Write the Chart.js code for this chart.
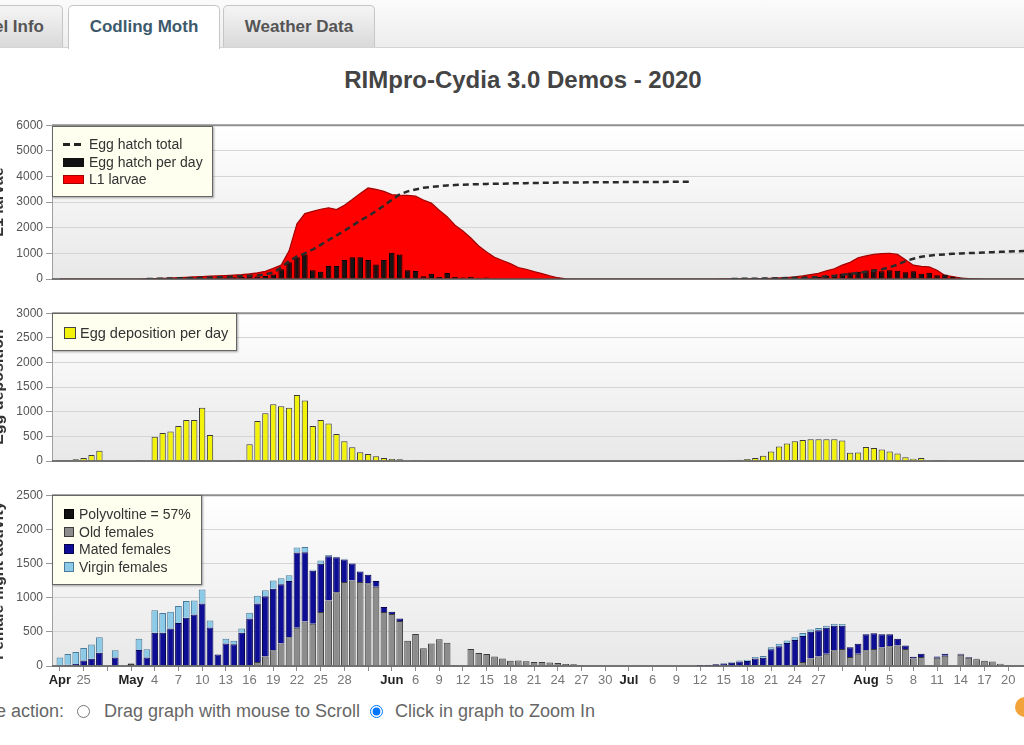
<!DOCTYPE html>
<html lang="en">
<head>
<meta charset="utf-8">
<title>RIMpro-Cydia 3.0 Demos - 2020</title>
<script src="https://cdn.jsdelivr.net/npm/chart.js@4.4.1/dist/chart.umd.min.js"></script>
<style>
  html, body { margin: 0; padding: 0; background: #fff; }
  body { position: relative; width: 1024px; height: 745px; overflow: hidden; font-family: "Liberation Sans", Arial, sans-serif; }
  .tabstrip { position: absolute; left: 0; top: 0; width: 1024px; height: 47px; background: linear-gradient(#fbfbfb, #ededed); border-bottom: 1px solid #d4d4d4; }
  .tab { position: absolute; top: 5px; height: 42px; line-height: 42px; text-align: center; font-size: 17px; font-weight: bold; color: #555; background: linear-gradient(#f5f5f5, #d9d9d9); border: 1px solid #c6c6c6; border-bottom: none; border-radius: 5px 5px 0 0; box-sizing: border-box; white-space: nowrap; }
  .tab.active { background: #fff; color: #3d5a6c; height: 44px; }
  h1 { position: absolute; left: 0; top: 64px; width: 1046px; margin: 0; text-align: center; font-size: 24px; line-height: 32px; font-weight: bold; color: #444; }
  canvas { position: absolute; left: -11px; }
  #larvaeChart { top: 115px; }
  #eggChart { top: 303px; }
  #femaleChart { top: 485px; }
  .legend { position: absolute; left: 52px; background: #fffff0; border: 1px solid #666; box-shadow: 1px 1px 2px rgba(0,0,0,0.35); color: #333; box-sizing: border-box; font-size: 14px; }
  .legend .row { position: absolute; left: 0; right: 0; height: 18px; line-height: 18px; white-space: nowrap; }
  .legend .sym { position: absolute; box-sizing: border-box; }
  .legend .txt { position: absolute; top: 0; }
  .mouse { position: absolute; top: 700px; font-size: 18px; line-height: 22px; color: #666; white-space: nowrap; }
  input[type=radio] { position: absolute; top: 705px; width: 13px; height: 13px; margin: 0; }
  .badge { position: absolute; left: 1015px; top: 697px; width: 20px; height: 20px; border-radius: 50%; background: #f2a33a; }
</style>
</head>
<body>

<div class="tabstrip"></div>
<div class="tab" style="left:-60px; width:123px;">Model Info</div>
<div class="tab active" style="left:68px; width:152px;">Codling Moth</div>
<div class="tab" style="left:223px; width:152px;">Weather Data</div>

<h1>RIMpro-Cydia 3.0 Demos - 2020</h1>

<canvas id="larvaeChart" width="1035" height="196"></canvas>
<canvas id="eggChart" width="1035" height="190"></canvas>
<canvas id="femaleChart" width="1035" height="203"></canvas>

<div class="legend" style="top:126px; width:161px; height:71px;">
  <div class="row" style="top:8px;"><span class="sym" style="left:10px; top:8px; width:22px; height:3px; background:repeating-linear-gradient(90deg,#222 0 7px,transparent 7px 11px);"></span><span class="txt" style="left:36px;">Egg hatch total</span></div>
  <div class="row" style="top:26px;"><span class="sym" style="left:10px; top:5px; width:21px; height:9px; background:#111;"></span><span class="txt" style="left:36px;">Egg hatch per day</span></div>
  <div class="row" style="top:43px;"><span class="sym" style="left:10px; top:5px; width:21px; height:9px; background:#ff0000; border:1px solid #a30000;"></span><span class="txt" style="left:36px;">L1 larvae</span></div>
</div>

<div class="legend" style="top:313px; width:185px; height:38px; font-size:14.5px;">
  <div class="row" style="top:10px;"><span class="sym" style="left:11px; top:3px; width:12px; height:12px; background:#f2f20a; border:1px solid #444;"></span><span class="txt" style="left:27px;">Egg deposition per day</span></div>
</div>

<div class="legend" style="top:495px; width:150px; height:90px;">
  <div class="row" style="top:9px;"><span class="sym" style="left:11px; top:4px; width:10px; height:10px; background:#111; border:1px solid #000;"></span><span class="txt" style="left:26px;">Polyvoltine = 57%</span></div>
  <div class="row" style="top:27px;"><span class="sym" style="left:11px; top:4px; width:10px; height:10px; background:#8c8c8c; border:1px solid #3c3c3c;"></span><span class="txt" style="left:26px;">Old females</span></div>
  <div class="row" style="top:44px;"><span class="sym" style="left:11px; top:4px; width:10px; height:10px; background:#0d0d96; border:1px solid #050550;"></span><span class="txt" style="left:26px;">Mated females</span></div>
  <div class="row" style="top:62px;"><span class="sym" style="left:11px; top:4px; width:10px; height:10px; background:#8ccbe8; border:1px solid #4a7a99;"></span><span class="txt" style="left:26px;">Virgin females</span></div>
</div>

<span class="mouse" style="left:-48px;">Mouse action:</span>
<input type="radio" name="mouseAction" style="left:77px;">
<span class="mouse" style="left:104px;">Drag graph with mouse to Scroll</span>
<input type="radio" name="mouseAction" style="left:370px;" checked>
<span class="mouse" style="left:395px;">Click in graph to Zoom In</span>
<div class="badge"></div>

<script>
const FONT = "'Liberation Sans', Arial, sans-serif";
const NARROW = "'Liberation Sans Narrow', 'Liberation Sans', Arial, sans-serif";

// days are counted from 21 April 2020; the series start on 22 April (day 1)
const FIRST_DAY = 1;
const X_MIN = 0;
const X_MAX = 123;

const tickDays = [1, 4, 7, 10, 13, 16, 19, 22, 25, 28, 31, 34, 37, 40, 43, 46, 49, 52, 55, 58, 61,
  64, 67, 70, 73, 76, 79, 82, 85, 88, 91, 94, 97, 100, 103, 106, 109, 112, 115, 118, 121];
const tickLabels = ['Apr', '25', '', 'May', '4', '7', '10', '13', '16', '19', '22', '25', '28', '', 'Jun',
  '6', '9', '12', '15', '18', '21', '24', '27', '30', 'Jul', '6', '9', '12', '15', '18', '21', '24', '27', '',
  'Aug', '5', '8', '11', '14', '17', '20'];
const monthLabels = ['Apr', 'May', 'Jun', 'Jul', 'Aug'];

const l1Larvae = [
  0, 0, 0, 0, 0, 0, 0, 0, 0, 0,
  0, 10, 15, 25, 35, 50, 65, 80, 95, 110,
  120, 135, 150, 170, 200, 240, 300, 420, 540, 1100,
  2150, 2550, 2640, 2720, 2780, 2710, 2880, 3100, 3340, 3550,
  3500, 3420, 3290, 3270, 3260, 3230, 3080, 2960, 2680, 2430,
  2100, 1870, 1600, 1290, 1050, 850, 720, 600, 450, 380,
  290, 210, 120, 50, 10, 0, 0, 0, 0, 0,
  0, 0, 0, 0, 0, 0, 0, 0, 0, 0,
  0, 0, 0, 0, 3, 5, 8, 10, 15, 20,
  30, 40, 55, 80, 120, 170, 220, 320, 400, 540,
  650, 830, 900, 960, 990, 1005, 960, 750, 540, 490,
  470, 340, 140, 90, 40, 15, 5, 0, 0, 0,
  0, 0, 0
];

const eggHatchPerDay = [
  0, 0, 0, 0, 0, 0, 0, 0, 0, 0,
  0, 10, 15, 20, 25, 30, 40, 45, 50, 55,
  55, 60, 70, 80, 90, 100, 120, 180, 380, 650,
  850, 960, 340, 280, 510, 510, 740, 850, 850, 740,
  570, 740, 1020, 960, 340, 310, 110, 200, 80, 230,
  80, 60, 90, 50, 60, 40, 30, 25, 20, 15,
  10, 0, 0, 0, 0, 0, 0, 0, 0, 0,
  0, 0, 0, 0, 0, 0, 0, 0, 0, 0,
  0, 0, 0, 0, 0, 0, 0, 0, 10, 15,
  20, 25, 30, 35, 40, 50, 80, 120, 150, 200,
  250, 280, 330, 380, 300, 340, 320, 260, 300, 200,
  240, 150, 180, 80, 60, 40, 20, 0, 0, 0,
  0, 0, 0
];

const eggHatchTotal = [
  null, null, null, null, null, null, null, null, null, null,
  null, 0, 5, 10, 20, 25, 30, 40, 45, 55,
  65, 75, 90, 110, 125, 140, 180, 250, 450, 700,
  880, 1000, 1150, 1330, 1520, 1700, 1880, 2080, 2280, 2450,
  2650, 2860, 3080, 3300, 3420, 3490, 3560, 3590, 3620, 3650,
  3665, 3680, 3690, 3700, 3710, 3715, 3720, 3730, 3735, 3740,
  3745, 3750, 3755, 3760, 3762, 3765, 3768, 3770, 3772, 3775,
  3777, 3780, 3782, 3784, 3785, 3787, 3788, 3790, 3791, 3792,
  3794, null, null, null, null, 0, 5, 8, 10, 15,
  20, 27, 35, 45, 52, 60, 80, 105, 130, 165,
  200, 235, 270, 320, 380, 460, 560, 700, 790, 870,
  910, 940, 960, 985, 995, 1010, 1020, 1035, 1045, 1060,
  1070, 1080, 1090
];

const eggDeposition = [
  18, 18, 35, 60, 120, 210, 0, 0, 0, 0,
  20, 10, 490, 570, 600, 710, 830, 830, 1080, 530,
  0, 0, 0, 18, 340, 810, 970, 1150, 1110, 1080,
  1340, 1230, 710, 830, 760, 550, 400, 280, 180, 140,
  95, 60, 40, 35, 0, 18, 0, 0, 0, 0,
  0, 0, 0, 0, 0, 0, 0, 0, 0, 0,
  0, 0, 0, 0, 0, 0, 0, 0, 0, 0,
  0, 0, 0, 0, 0, 0, 0, 0, 5, 5,
  5, 5, 5, 5, 5, 18, 24, 40, 60, 105,
  195, 295, 355, 400, 425, 440, 440, 440, 440, 415,
  165, 175, 285, 265, 235, 195, 150, 75, 47, 60,
  0, 18, 18, 0, 15, 15, 0, 0, 0, 0,
  0, 0, 0
];

const polyvoltine = [
  0, 0, 0, 0, 0, 0, 0, 0, 0, 35,
  0, 0, 0, 0, 0, 0, 0, 0, 0, 0,
  0, 0, 0, 0, 0, 0, 0, 0, 0, 0,
  0, 0, 0, 0, 0, 0, 0, 0, 0, 0,
  0, 0, 0, 0, 0, 0, 0, 0, 0, 0,
  0, 0, 0, 0, 0, 0, 0, 0, 0, 0,
  0, 0, 0, 0, 0, 0, 0, 0, 0, 0,
  0, 0, 0, 0, 0, 0, 0, 0, 0, 0,
  0, 0, 0, 0, 0, 0, 0, 0, 0, 0,
  0, 0, 0, 0, 0, 0, 0, 0, 0, 0,
  0, 0, 0, 0, 0, 0, 0, 0, 0, 0,
  0, 0, 0, 0, 0, 0, 0, 0, 0, 0,
  0, 0, 0
];

const oldFemales = [
  0, 0, 0, 0, 0, 0, 0, 0, 0, 0,
  0, 0, 0, 0, 0, 0, 0, 0, 0, 0,
  0, 0, 0, 0, 15, 60, 140, 230, 330, 420,
  560, 650, 620, 790, 960, 1080, 1230, 1250, 1230, 1210,
  1160, 790, 760, 660, 370, 470, 260, 330, 390, 340,
  15, 0, 250, 190, 175, 140, 110, 78, 80, 70,
  60, 58, 50, 44, 30, 24, 15, 12, 10, 0,
  6, 8, 8, 6, 5, 0, 5, 6, 6, 6,
  8, 5, 5, 5, 0, 0, 0, 0, 0, 0,
  0, 0, 0, 0, 60, 110, 140, 180, 230, 250,
  130, 180, 230, 250, 270, 290, 300, 250, 110, 130,
  0, 120, 150, 0, 165, 120, 100, 78, 66, 34,
  15, 10, 10
];

const matedFemales = [
  10, 20, 30, 80, 105, 195, 0, 125, 0, 0,
  235, 125, 485, 485, 550, 630, 705, 755, 915, 565,
  170, 330, 320, 485, 680, 855, 880, 900, 865, 825,
  1100, 1015, 775, 705, 645, 510, 330, 250, 155, 125,
  85, 75, 35, 35, 0, 0, 0, 0, 0, 0,
  0, 0, 0, 0, 0, 0, 0, 0, 0, 0,
  0, 0, 0, 0, 0, 0, 0, 0, 0, 0,
  0, 0, 0, 0, 0, 0, 0, 0, 0, 0,
  0, 8, 10, 20, 35, 48, 65, 75, 110, 120,
  245, 290, 335, 380, 380, 390, 385, 380, 360, 340,
  145, 145, 235, 230, 195, 175, 100, 50, 25, 50,
  0, 20, 30, 0, 15, 10, 5, 0, 0, 0,
  0, 0, 0
];

const virginFemales = [
  115, 155, 175, 185, 210, 225, 0, 105, 0, 0,
  165, 120, 330, 290, 245, 250, 245, 205, 205, 100,
  0, 70, 50, 65, 85, 115, 90, 120, 90, 85,
  75, 75, 15, 50, 20, 10, 8, 5, 3, 5,
  3, 0, 0, 0, 0, 0, 0, 0, 0, 0,
  0, 0, 0, 0, 0, 0, 0, 0, 0, 0,
  0, 0, 0, 0, 0, 0, 0, 0, 0, 0,
  0, 0, 0, 0, 0, 0, 0, 0, 0, 0,
  0, 0, 0, 0, 10, 10, 15, 18, 20, 25,
  30, 35, 38, 40, 42, 35, 32, 30, 28, 25,
  0, 0, 0, 0, 0, 0, 0, 0, 0, 0,
  0, 0, 0, 0, 0, 0, 0, 0, 0, 0,
  0, 0, 0
];

function points(values) {
  return values.map((v, i) => ({ x: FIRST_DAY + i, y: v }));
}

function tickText(value) {
  const k = tickDays.indexOf(value);
  return k === -1 ? '' : tickLabels[k];
}

function isMonthTick(c) {
  return !!c.tick && monthLabels.includes(tickText(c.tick.value));
}

// grey gradient behind the plot, frame lines drawn over the marks
const panelFrame = {
  id: 'panelFrame',
  beforeDraw(chart) {
    const { ctx, chartArea: a } = chart;
    const g = ctx.createLinearGradient(0, a.top, 0, a.bottom);
    g.addColorStop(0, '#ffffff');
    g.addColorStop(1, '#e8e8e8');
    ctx.save();
    ctx.fillStyle = g;
    ctx.fillRect(a.left, a.top, a.right - a.left, a.bottom - a.top);
    ctx.restore();
  },
  afterDatasetsDraw(chart) {
    const { ctx, chartArea: a } = chart;
    ctx.save();
    ctx.strokeStyle = '#8f8f8f';
    ctx.lineWidth = 2;
    ctx.beginPath();
    ctx.moveTo(a.left, a.top);
    ctx.lineTo(a.right, a.top);
    ctx.stroke();
    ctx.strokeStyle = '#a0a0a0';
    ctx.lineWidth = 1;
    ctx.beginPath();
    ctx.moveTo(a.left + 0.5, a.top);
    ctx.lineTo(a.left + 0.5, a.bottom);
    ctx.stroke();
    ctx.strokeStyle = '#505050';
    ctx.lineWidth = 1.5;
    ctx.beginPath();
    ctx.moveTo(a.left, a.bottom);
    ctx.lineTo(a.right, a.bottom);
    ctx.stroke();
    ctx.restore();
  }
};

function panelOptions(yMax, yStep, yTitle, showX, stacked) {
  return {
    responsive: false,
    animation: false,
    events: [],
    layout: { padding: { top: 10, bottom: showX ? 0 : 10, left: 0, right: 0 } },
    plugins: { legend: { display: false }, tooltip: { enabled: false } },
    scales: {
      x: {
        type: 'linear',
        min: X_MIN,
        max: X_MAX,
        offset: false,
        stacked: stacked,
        display: showX,
        grid: { offset: false, drawOnChartArea: false, drawTicks: true, tickLength: 5, color: '#8a8a8a' },
        border: { display: false },
        afterBuildTicks: (scale) => { scale.ticks = tickDays.map((v) => ({ value: v })); },
        afterFit: (scale) => { scale.height = 22; },
        ticks: {
          autoSkip: false,
          maxRotation: 0,
          padding: 2,
          callback: (value) => tickText(value),
          font: (c) => ({ family: NARROW, size: 13, weight: isMonthTick(c) ? 'bold' : 'normal' }),
          color: (c) => (isMonthTick(c) ? '#222' : '#777')
        }
      },
      y: {
        min: 0,
        max: yMax,
        stacked: stacked,
        afterFit: (scale) => { scale.width = 63; },
        grid: { color: '#d5d5d5', tickColor: '#999', tickLength: 6 },
        border: { display: false },
        ticks: { stepSize: yStep, padding: 3, color: '#555', font: { family: FONT, size: 12 }, callback: (v) => String(v) },
        title: { display: true, text: yTitle, color: '#333', padding: { top: 0, bottom: 0 }, font: { family: FONT, size: 16, weight: 'bold' } }
      }
    }
  };
}

new Chart(document.getElementById('larvaeChart'), {
  type: 'bar',
  data: {
    datasets: [
      {
        type: 'line', label: 'Egg hatch total', data: points(eggHatchTotal),
        borderColor: '#2a2a2a', borderWidth: 2.5, borderDash: [6, 4],
        pointRadius: 0, fill: false, spanGaps: false, order: 1
      },
      {
        type: 'bar', label: 'Egg hatch per day', data: points(eggHatchPerDay),
        backgroundColor: '#141414', borderColor: '#000', borderWidth: 1,
        barPercentage: 0.7, categoryPercentage: 1, order: 2
      },
      {
        type: 'line', label: 'L1 larvae', data: points(l1Larvae),
        borderColor: '#a30000', borderWidth: 1.2, backgroundColor: '#ff0000',
        fill: 'origin', pointRadius: 0, tension: 0, order: 3
      }
    ]
  },
  options: panelOptions(6000, 1000, 'L1 larvae', false, false),
  plugins: [panelFrame]
});

new Chart(document.getElementById('eggChart'), {
  type: 'bar',
  data: {
    datasets: [
      {
        label: 'Egg deposition per day', data: points(eggDeposition),
        backgroundColor: '#f2f20a', borderColor: '#3a3a3a', borderWidth: 1,
        barPercentage: 0.8, categoryPercentage: 1
      }
    ]
  },
  options: panelOptions(3000, 500, 'Egg deposition', false, false),
  plugins: [panelFrame]
});

new Chart(document.getElementById('femaleChart'), {
  type: 'bar',
  data: {
    datasets: [
      { label: 'Polyvoltine = 57%', data: points(polyvoltine), backgroundColor: '#111', borderColor: '#000' },
      { label: 'Old females', data: points(oldFemales), backgroundColor: '#8c8c8c', borderColor: '#3c3c3c' },
      { label: 'Mated females', data: points(matedFemales), backgroundColor: '#0d0d96', borderColor: '#050550' },
      { label: 'Virgin females', data: points(virginFemales), backgroundColor: '#8ccbe8', borderColor: '#4a7a99' }
    ].map((ds) => Object.assign(ds, { borderWidth: 1, barPercentage: 0.85, categoryPercentage: 1 }))
  },
  options: panelOptions(2500, 500, 'Female flight activity', true, true),
  plugins: [panelFrame]
});
</script>
</body>
</html>
